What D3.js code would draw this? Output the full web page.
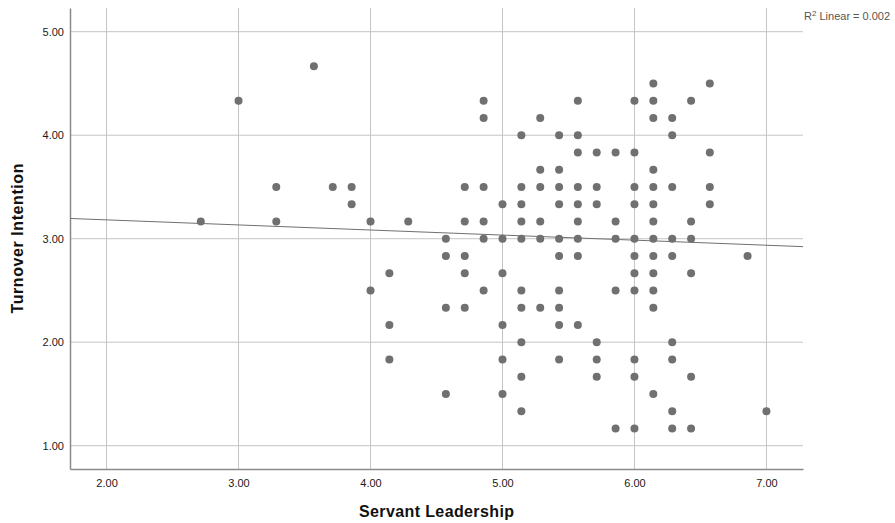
<!DOCTYPE html>
<html>
<head>
<meta charset="utf-8">
<script src="https://cdn.jsdelivr.net/npm/d3@7"></script>
<style>
  body { margin: 0; background: #fff; }
  text { font-family: "Liberation Sans", Arial, sans-serif; }
</style>
</head>
<body>
<script>
// servant leadership score of each dot (x) and turnover intention (y)
var leadership = [
  2.714, 3.000, 3.286, 3.286, 3.571, 3.714, 3.857, 3.857, 4.000, 4.000,
  4.143, 4.143, 4.143, 4.286,
  4.571, 4.571, 4.571, 4.571,
  4.714, 4.714, 4.714, 4.714, 4.714,
  4.857, 4.857, 4.857, 4.857, 4.857, 4.857,
  5.000, 5.000, 5.000, 5.000, 5.000, 5.000,
  5.143, 5.143, 5.143, 5.143, 5.143, 5.143, 5.143, 5.143, 5.143, 5.143,
  5.286, 5.286, 5.286, 5.286, 5.286, 5.286,
  5.429, 5.429, 5.429, 5.429, 5.429, 5.429, 5.429, 5.429, 5.429, 5.429,
  5.571, 5.571, 5.571, 5.571, 5.571, 5.571, 5.571, 5.571, 5.571,
  5.714, 5.714, 5.714, 5.714, 5.714, 5.714,
  5.857, 5.857, 5.857, 5.857, 5.857,
  6.000, 6.000, 6.000, 6.000, 6.000, 6.000, 6.000, 6.000, 6.000, 6.000, 6.000,
  6.143, 6.143, 6.143, 6.143, 6.143, 6.143, 6.143, 6.143, 6.143, 6.143, 6.143, 6.143, 6.143,
  6.286, 6.286, 6.286, 6.286, 6.286, 6.286, 6.286, 6.286, 6.286,
  6.429, 6.429, 6.429, 6.429, 6.429, 6.429,
  6.571, 6.571, 6.571, 6.571,
  6.857, 7.000
];
var turnover = [
  3.167, 4.333, 3.500, 3.167, 4.667, 3.500, 3.500, 3.333, 3.167, 2.500,
  2.667, 2.167, 1.833, 3.167,
  3.000, 2.833, 2.333, 1.500,
  3.500, 3.167, 2.833, 2.667, 2.333,
  4.333, 4.167, 3.500, 3.167, 3.000, 2.500,
  3.333, 3.000, 2.667, 2.167, 1.833, 1.500,
  4.000, 3.500, 3.333, 3.167, 3.000, 2.500, 2.333, 2.000, 1.667, 1.333,
  4.167, 3.667, 3.500, 3.167, 3.000, 2.333,
  4.000, 3.667, 3.500, 3.333, 3.000, 2.833, 2.500, 2.333, 2.167, 1.833,
  4.333, 4.000, 3.833, 3.500, 3.333, 3.167, 3.000, 2.833, 2.167,
  3.833, 3.500, 3.333, 2.000, 1.833, 1.667,
  3.833, 3.167, 3.000, 2.500, 1.167,
  4.333, 3.833, 3.500, 3.333, 3.000, 2.833, 2.667, 2.500, 1.833, 1.667, 1.167,
  4.500, 4.333, 4.167, 3.667, 3.500, 3.333, 3.167, 3.000, 2.833, 2.667, 2.500, 2.333, 1.500,
  4.167, 4.000, 3.500, 3.000, 2.833, 2.000, 1.833, 1.333, 1.167,
  4.333, 3.167, 3.000, 2.667, 1.667, 1.167,
  4.500, 3.833, 3.500, 3.333,
  2.833, 1.333
];

var xTicks = [2, 3, 4, 5, 6, 7];
var yTicks = [1, 2, 3, 4, 5];
// linear fit: intercept, slope
var fitCoef = [3.28, -0.049];
var r2Label = "0.002";

var screen = {width: 895, height: 523};
var margins = {left: 70, right: 92, top: 8, bottom: 54};

var graph = {
  width: screen.width - margins.left - margins.right,
  height: screen.height - margins.top - margins.bottom
};

var xScale = d3.scaleLinear()
  .domain([1.723, 7.277])
  .range([0, graph.width]);

var yScale = d3.scaleLinear()
  .domain([0.775, 5.229])
  .range([graph.height, 0]);

var svg = d3.select("body")
  .append("svg")
  .attr("width", screen.width)
  .attr("height", screen.height);

var plot = svg.append("g")
  .attr("transform", "translate(" + margins.left + "," + margins.top + ")");

// grid
plot.append("g")
  .selectAll("line")
  .data(xTicks)
  .enter()
  .append("line")
  .attr("x1", function(d) { return xScale(d); })
  .attr("x2", function(d) { return xScale(d); })
  .attr("y1", 0)
  .attr("y2", graph.height)
  .attr("stroke", "#c4c4c4")
  .attr("stroke-width", 1);

plot.append("g")
  .selectAll("line")
  .data(yTicks)
  .enter()
  .append("line")
  .attr("x1", 0)
  .attr("x2", graph.width)
  .attr("y1", function(d) { return yScale(d); })
  .attr("y2", function(d) { return yScale(d); })
  .attr("stroke", "#c4c4c4")
  .attr("stroke-width", 1);

// axes
var xAxis = d3.axisBottom(xScale)
  .tickValues(xTicks)
  .tickFormat(d3.format(".2f"))
  .tickSize(0)
  .tickPadding(10);

var yAxis = d3.axisLeft(yScale)
  .tickValues(yTicks)
  .tickFormat(d3.format(".2f"))
  .tickSize(0)
  .tickPadding(6);

var gx = plot.append("g")
  .attr("transform", "translate(0," + graph.height + ")")
  .call(xAxis);

var gy = plot.append("g")
  .call(yAxis);

[gx, gy].forEach(function(g) {
  g.select(".domain").attr("stroke", "#8a8a8a").attr("stroke-width", 1.5);
  g.selectAll("text")
    .attr("fill", "#1a1a1a")
    .style("font-size", "11px");
});

// fit line
var fitLine = d3.line()
  .x(function(d) { return xScale(d); })
  .y(function(d) { return yScale(fitCoef[0] + fitCoef[1] * d); });

plot.append("path")
  .datum(xScale.domain())
  .attr("d", fitLine)
  .attr("fill", "none")
  .attr("stroke", "#707070")
  .attr("stroke-width", 1);

// dots
plot.append("g")
  .selectAll("circle")
  .data(leadership)
  .enter()
  .append("circle")
  .attr("cx", function(d) { return xScale(d); })
  .attr("cy", function(d, i) { return yScale(turnover[i]); })
  .attr("r", 4)
  .attr("fill", "#707070");

// R2 note
var note = svg.append("text")
  .attr("x", margins.left + graph.width + 1)
  .attr("y", 20)
  .attr("fill", "#555")
  .style("font-size", "11px");
note.append("tspan").text("R");
note.append("tspan").attr("dy", -4).style("font-size", "8px").text("2");
note.append("tspan").attr("dy", 4).text(" Linear = " + r2Label);

// titles
svg.append("text")
  .attr("x", margins.left + graph.width / 2)
  .attr("y", 517)
  .attr("text-anchor", "middle")
  .attr("textLength", 155)
  .attr("lengthAdjust", "spacing")
  .style("font-size", "16px")
  .style("font-weight", "bold")
  .attr("fill", "#111")
  .text("Servant Leadership");

svg.append("text")
  .attr("transform", "translate(23," + (margins.top + graph.height / 2) + ") rotate(-90)")
  .attr("text-anchor", "middle")
  .attr("textLength", 150)
  .attr("lengthAdjust", "spacing")
  .style("font-size", "16px")
  .style("font-weight", "bold")
  .attr("fill", "#111")
  .text("Turnover Intention");
</script>
</body>
</html>
